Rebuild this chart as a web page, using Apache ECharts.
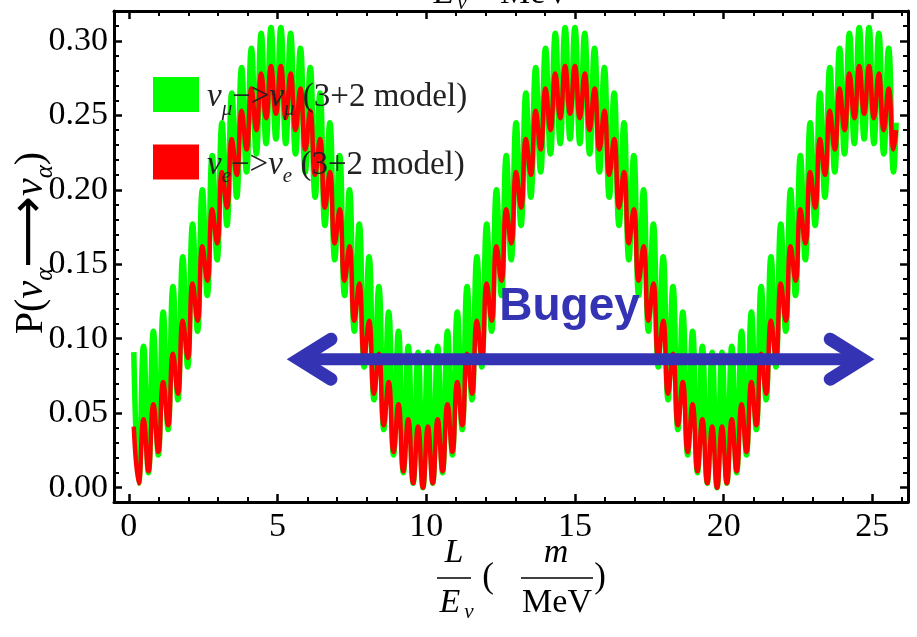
<!DOCTYPE html>
<html>
<head>
<meta charset="utf-8">
<script src="https://cdn.jsdelivr.net/npm/echarts@6/dist/echarts.min.js"></script>
<style>
  html, body { margin: 0; padding: 0; background: #ffffff; }
  #chart { width: 917px; height: 637px; }
</style>
</head>
<body>
<div id="chart"></div>
<script>
// L/E positions (m/MeV) of the successive maxima and minima of the fast oscillation
const positions = [
  0.165, 0.330, 0.494, 0.659, 0.824, 0.989, 1.154, 1.319, 1.483, 1.648,
  1.813, 1.978, 2.143, 2.308, 2.472, 2.637, 2.802, 2.967, 3.132, 3.297,
  3.461, 3.626, 3.791, 3.956, 4.121, 4.286, 4.450, 4.615, 4.780, 4.945,
  5.110, 5.275, 5.439, 5.604, 5.769, 5.934, 6.099, 6.264, 6.428, 6.593,
  6.758, 6.923, 7.088, 7.253, 7.417, 7.582, 7.747, 7.912, 8.077, 8.242,
  8.406, 8.571, 8.736, 8.901, 9.066, 9.230, 9.395, 9.560, 9.725, 9.890,
  10.055, 10.220, 10.384, 10.549, 10.714, 10.879, 11.044, 11.209, 11.373, 11.538,
  11.703, 11.868, 12.033, 12.198, 12.362, 12.527, 12.692, 12.857, 13.022, 13.187,
  13.351, 13.516, 13.681, 13.846, 14.011, 14.176, 14.340, 14.505, 14.670, 14.835,
  15.000, 15.165, 15.329, 15.494, 15.659, 15.824, 15.989, 16.154, 16.318, 16.483,
  16.648, 16.813, 16.978, 17.143, 17.307, 17.472, 17.637, 17.802, 17.967, 18.131,
  18.296, 18.461, 18.626, 18.791, 18.956, 19.120, 19.285, 19.450, 19.615, 19.780,
  19.945, 20.110, 20.274, 20.439, 20.604, 20.769, 20.934, 21.099, 21.263, 21.428,
  21.593, 21.758, 21.923, 22.088, 22.252, 22.417, 22.582, 22.747, 22.912, 23.076,
  23.241, 23.406, 23.571, 23.736, 23.901, 24.065, 24.230, 24.395, 24.560, 24.725,
  24.889, 25.054, 25.219, 25.384, 25.549, 25.714, 25.800
];

// nu_mu -> nu_mu probability (3+2 model) at those positions
const numuProb = [
  0.091, 0.003, 0.095, 0.010, 0.105, 0.022, 0.118, 0.039, 0.135, 0.059,
  0.155, 0.081, 0.177, 0.105, 0.200, 0.129, 0.223, 0.153, 0.245, 0.176,
  0.265, 0.195, 0.282, 0.212, 0.295, 0.224, 0.305, 0.231, 0.309, 0.234,
  0.309, 0.231, 0.305, 0.224, 0.295, 0.212, 0.282, 0.195, 0.265, 0.176,
  0.245, 0.153, 0.223, 0.129, 0.200, 0.105, 0.177, 0.081, 0.155, 0.059,
  0.135, 0.039, 0.118, 0.022, 0.105, 0.010, 0.095, 0.003, 0.091, 0.000,
  0.091, 0.003, 0.095, 0.010, 0.105, 0.022, 0.118, 0.039, 0.135, 0.059,
  0.155, 0.081, 0.177, 0.105, 0.200, 0.129, 0.223, 0.153, 0.245, 0.176,
  0.265, 0.195, 0.282, 0.212, 0.295, 0.224, 0.305, 0.231, 0.309, 0.234,
  0.309, 0.231, 0.305, 0.224, 0.295, 0.212, 0.282, 0.195, 0.265, 0.176,
  0.245, 0.153, 0.223, 0.129, 0.200, 0.105, 0.177, 0.081, 0.155, 0.059,
  0.135, 0.039, 0.118, 0.022, 0.105, 0.010, 0.095, 0.003, 0.091, 0.000,
  0.091, 0.003, 0.095, 0.010, 0.105, 0.022, 0.118, 0.039, 0.135, 0.059,
  0.155, 0.081, 0.177, 0.105, 0.200, 0.129, 0.223, 0.153, 0.245, 0.176,
  0.265, 0.195, 0.282, 0.212, 0.295, 0.224, 0.305, 0.231, 0.309, 0.234,
  0.309, 0.231, 0.305, 0.224, 0.295, 0.212, 0.245
];

// nu_e -> nu_e probability (3+2 model) at those positions
const nueProb = [
  0.041, 0.003, 0.046, 0.011, 0.056, 0.024, 0.071, 0.042, 0.090, 0.063,
  0.112, 0.087, 0.137, 0.112, 0.162, 0.139, 0.187, 0.164, 0.212, 0.188,
  0.234, 0.210, 0.253, 0.227, 0.268, 0.240, 0.278, 0.248, 0.283, 0.251,
  0.283, 0.248, 0.278, 0.240, 0.268, 0.227, 0.253, 0.210, 0.234, 0.188,
  0.212, 0.164, 0.187, 0.139, 0.162, 0.112, 0.137, 0.087, 0.112, 0.063,
  0.090, 0.042, 0.071, 0.024, 0.056, 0.011, 0.046, 0.003, 0.041, 0.000,
  0.041, 0.003, 0.046, 0.011, 0.056, 0.024, 0.071, 0.042, 0.090, 0.063,
  0.112, 0.087, 0.137, 0.112, 0.162, 0.139, 0.187, 0.164, 0.212, 0.188,
  0.234, 0.210, 0.253, 0.227, 0.268, 0.240, 0.278, 0.248, 0.283, 0.251,
  0.283, 0.248, 0.278, 0.240, 0.268, 0.227, 0.253, 0.210, 0.234, 0.188,
  0.212, 0.164, 0.187, 0.139, 0.162, 0.112, 0.137, 0.087, 0.112, 0.063,
  0.090, 0.042, 0.071, 0.024, 0.056, 0.011, 0.046, 0.003, 0.041, 0.000,
  0.041, 0.003, 0.046, 0.011, 0.056, 0.024, 0.071, 0.042, 0.090, 0.063,
  0.112, 0.087, 0.137, 0.112, 0.162, 0.139, 0.187, 0.164, 0.212, 0.188,
  0.234, 0.210, 0.253, 0.227, 0.268, 0.240, 0.278, 0.248, 0.283, 0.251,
  0.283, 0.248, 0.278, 0.240, 0.268, 0.227, 0.240
];

const seriesNames = ['numu-3+2', 'nue-3+2'];
const legendLabels = {
  'numu-3+2': '{g|ν}{s|μ}{t|−>}{g|ν}{s|μ}{t| (3+2 model)}',
  'nue-3+2': '{g|ν}{s|e}{t|−>}{g|ν}{s|e}{t| (3+2 model)}'
};

// Bugey baseline range (m/MeV) and the level at which its arrow is drawn
const bugeyRange = [5.25, 25.13];
const bugeyLevel = 0.0863;
const bugeyLabelAt = [14.82, 0.121];

const xRange = [-0.5, 26.2];
const yRange = [-0.0096, 0.32];

const SERIF = '"Liberation Serif", "DejaVu Serif", serif';
const BLUE = '#3333b4';

function isMultiple(v, step) {
  const r = v / step;
  return Math.abs(r - Math.round(r)) < 1e-6;
}

const frameLine = { show: true, onZero: false, lineStyle: { color: '#000', width: 3 } };
const tickStyle = { show: true, inside: true, length: 8, lineStyle: { color: '#000', width: 2.5 } };
const minorStyle = { show: true, splitNumber: 5, length: 5, lineStyle: { color: '#000', width: 2 } };

const chart = echarts.init(document.getElementById('chart'));

const option = {
  animation: false,
  backgroundColor: '#ffffff',
  grid: { left: 114, right: 9, top: 11, bottom: 135, containLabel: false },
  xAxis: [
    {
      type: 'value', position: 'bottom', min: xRange[0], max: xRange[1], splitNumber: 5,
      axisLine: frameLine, axisTick: tickStyle, minorTick: minorStyle,
      splitLine: { show: false }, minorSplitLine: { show: false },
      axisLabel: {
        color: '#000', fontFamily: SERIF, fontSize: 34, margin: 8,
        formatter: v => (isMultiple(v, 5) ? String(Math.round(v)) : '')
      }
    },
    {
      type: 'value', position: 'top', min: xRange[0], max: xRange[1], splitNumber: 5,
      axisLine: frameLine, axisTick: tickStyle, minorTick: minorStyle,
      splitLine: { show: false }, axisLabel: { show: false }
    }
  ],
  yAxis: [
    {
      type: 'value', position: 'left', min: yRange[0], max: yRange[1], splitNumber: 7,
      axisLine: frameLine, axisTick: tickStyle, minorTick: minorStyle,
      splitLine: { show: false }, minorSplitLine: { show: false },
      axisLabel: {
        color: '#000', fontFamily: SERIF, fontSize: 34, margin: 6,
        formatter: v => (isMultiple(v, 0.05) ? v.toFixed(2) : '')
      }
    },
    {
      type: 'value', position: 'right', min: yRange[0], max: yRange[1], splitNumber: 7,
      axisLine: frameLine, axisTick: tickStyle, minorTick: minorStyle,
      splitLine: { show: false }, axisLabel: { show: false }
    }
  ],
  legend: {
    orient: 'vertical', left: 153, top: 77, padding: 0,
    itemWidth: 46, itemHeight: 35, itemGap: 25, icon: 'rect',
    selectedMode: false,
    data: seriesNames,
    formatter: name => legendLabels[name],
    textStyle: {
      color: '#222',
      padding: [6, 0, 0, 3],
      rich: {
        g: { fontFamily: SERIF, fontStyle: 'italic', fontSize: 33, lineHeight: 44, verticalAlign: 'middle', color: '#222' },
        s: { fontFamily: SERIF, fontStyle: 'italic', fontSize: 21, lineHeight: 44, verticalAlign: 'bottom', color: '#222' },
        t: { fontFamily: SERIF, fontSize: 33, lineHeight: 44, verticalAlign: 'middle', color: '#222' }
      }
    }
  },
  series: [
    {
      name: seriesNames[0], type: 'line', xAxisIndex: 0, yAxisIndex: 0,
      data: positions.map((x, i) => [x, numuProb[i]]),
      smooth: 0.5, showSymbol: false, symbol: 'none', silent: true,
      color: '#00ff00', lineStyle: { color: '#00ff00', width: 5.5 }, z: 2
    },
    {
      name: seriesNames[1], type: 'line', xAxisIndex: 0, yAxisIndex: 0,
      data: positions.map((x, i) => [x, nueProb[i]]),
      smooth: 0.5, showSymbol: false, symbol: 'none', silent: true,
      color: '#ff0000', lineStyle: { color: '#ff0000', width: 4.5 }, z: 3
    }
  ]
};

chart.setOption(option);

// Annotations: Bugey arrow, axis titles
const toPx = p => chart.convertToPixel({ xAxisIndex: 0, yAxisIndex: 0 }, p);
const tipL = toPx([bugeyRange[0], bugeyLevel]);
const tipR = toPx([bugeyRange[1], bugeyLevel]);
const labelPt = toPx(bugeyLabelAt);
const inset = 14, armX = 32, armY = 20;
const vL = [tipL[0] + inset, tipL[1]];
const vR = [tipR[0] - inset, tipR[1]];

const nuRich = {
  t: { fontFamily: SERIF, fontSize: 40, lineHeight: 54, verticalAlign: 'middle', fill: '#000' },
  g: { fontFamily: SERIF, fontStyle: 'italic', fontSize: 40, lineHeight: 54, verticalAlign: 'middle', fill: '#000' },
  s: { fontFamily: SERIF, fontStyle: 'italic', fontSize: 25, lineHeight: 54, verticalAlign: 'bottom', fill: '#000' },
  a: { fontFamily: '"DejaVu Sans", sans-serif', fontSize: 50, lineHeight: 54, verticalAlign: 'middle', fill: '#000' }
};

function serifText(x, y, text, size, italic) {
  return {
    type: 'text', x: x, y: y, silent: true, z: 10,
    style: {
      text: text, fill: '#000', align: 'center', verticalAlign: 'middle',
      fontFamily: SERIF, fontSize: size, fontStyle: italic ? 'italic' : 'normal'
    }
  };
}

chart.setOption({
  graphic: [
    { type: 'line', silent: true, z: 20,
      shape: { x1: vL[0], y1: vL[1], x2: vR[0], y2: vR[1] },
      style: { stroke: BLUE, lineWidth: 12, lineCap: 'butt' } },
    { type: 'polyline', silent: true, z: 20,
      shape: { points: [[vL[0] + armX, vL[1] - armY], vL, [vL[0] + armX, vL[1] + armY]] },
      style: { stroke: BLUE, lineWidth: 13, lineCap: 'round', lineJoin: 'miter', fill: null } },
    { type: 'polyline', silent: true, z: 20,
      shape: { points: [[vR[0] - armX, vR[1] - armY], vR, [vR[0] - armX, vR[1] + armY]] },
      style: { stroke: BLUE, lineWidth: 13, lineCap: 'round', lineJoin: 'miter', fill: null } },
    { type: 'text', silent: true, z: 20, x: labelPt[0], y: labelPt[1],
      style: { text: 'Bugey', fill: BLUE, align: 'center', verticalAlign: 'middle',
               fontFamily: '"Liberation Sans", Arial, sans-serif', fontWeight: 'bold', fontSize: 46 } },

    // y-axis title
    { type: 'text', silent: true, z: 10, x: 31, y: 243, rotation: Math.PI / 2,
      style: { text: '{t|P(}{g|ν}{s|α}{a|⟶}{g|ν}{s|α}{t|)}', rich: nuRich, align: 'center', verticalAlign: 'middle' } },

    // x-axis title: L/E_nu (m/MeV)
    serifText(454, 553, 'L', 34, true),
    { type: 'line', silent: true, shape: { x1: 437, y1: 578, x2: 471, y2: 578 }, style: { stroke: '#000', lineWidth: 1.5 } },
    serifText(450, 603, 'E', 34, true),
    serifText(469, 612, 'ν', 21, true),
    serifText(488, 578, '(', 35, false),
    serifText(556, 553, 'm', 34, true),
    { type: 'line', silent: true, shape: { x1: 521, y1: 578, x2: 593, y2: 578 }, style: { stroke: '#000', lineWidth: 1.5 } },
    serifText(557, 603, 'MeV', 34, false),
    serifText(600, 578, ')', 35, false),

    // clipped title remnant along the top edge
    serifText(444, -6, 'E', 34, true),
    serifText(462, 3, 'ν', 21, true),
    serifText(535, -6, 'MeV', 34, false)
  ]
});
</script>
</body>
</html>
